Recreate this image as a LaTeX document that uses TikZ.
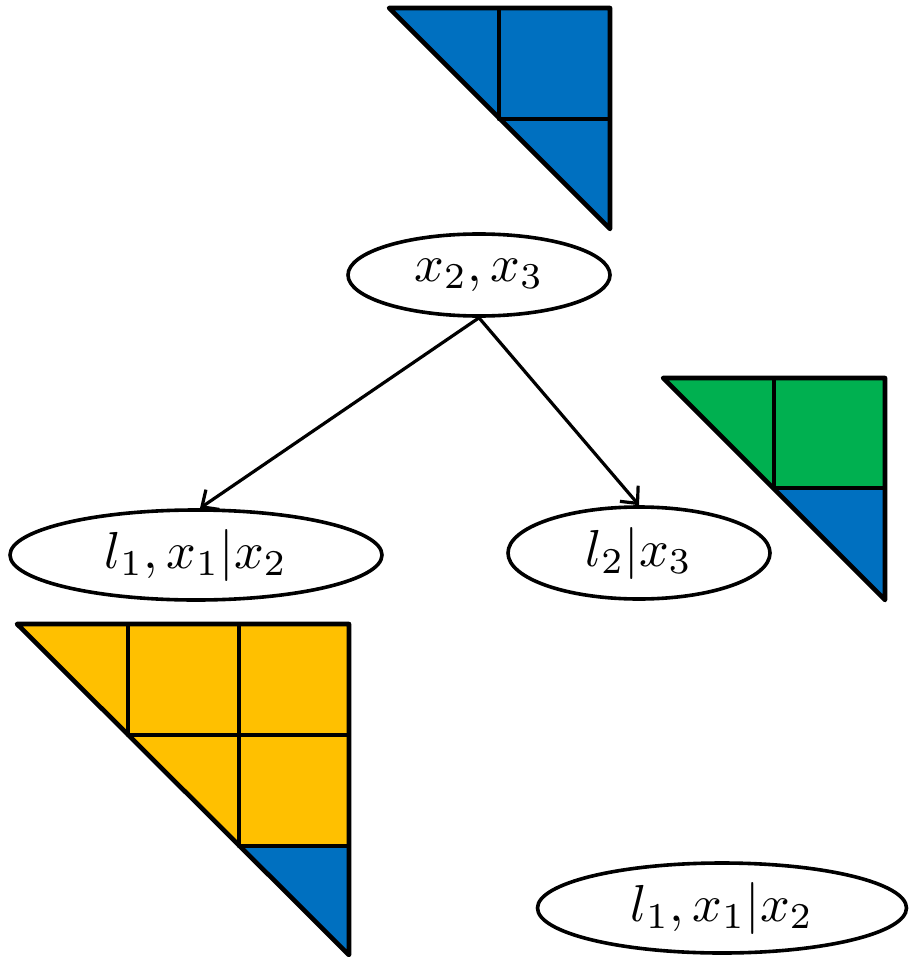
\documentclass[tikz,border=0pt]{standalone}
\usepackage{graphicx}
\usetikzlibrary{shapes.geometric,arrows.meta}
\definecolor{cblue}{HTML}{0070C0}
\definecolor{cgreen}{HTML}{00B050}
\definecolor{cyellow}{HTML}{FFC000}
\newcommand{\bigmath}[1]{\scalebox{5.2}{$#1$}}
\tikzset{
  cell/.style={draw=black,line width=4.6pt,line join=round},
  oval/.style={draw=black,ellipse,line width=3.6pt,inner sep=0pt},
  edge/.style={draw=black,line width=3.2pt,
    -{Straight Barb[length=13pt,width=24pt,line width=3.2pt]}}
}
\begin{document}
\begin{tikzpicture}[x=1pt,y=-1pt]
\useasboundingbox (0,0) rectangle (908,957);

% top block: three blue cells
\fill[cblue] (389,8) -- (610,8) -- (610,229) -- cycle;
\draw[cell] (389,8) -- (610,8) -- (610,229) -- cycle;
\draw[cell] (499,8) -- (499,119) -- (610,119);

% right block: green over blue
\fill[cgreen] (663,378) -- (885,378) -- (885,488) -- (774,488) -- cycle;
\fill[cblue] (774,488) -- (885,488) -- (885,600) -- cycle;
\draw[cell] (663,378) -- (885,378) -- (885,600) -- cycle;
\draw[cell] (774,378) -- (774,488) -- (885,488);

% left block: yellow cells with one blue cell
\fill[cyellow] (17,624) -- (349,624) -- (349,846) -- (239,846) -- cycle;
\fill[cblue] (239,846) -- (349,846) -- (349,955) -- cycle;
\draw[cell] (17,624) -- (349,624) -- (349,955) -- cycle;
\draw[cell] (128,624) -- (128,735) -- (349,735);
\draw[cell] (239,624) -- (239,846) -- (349,846);

% tree nodes
\node[oval,minimum width=262pt,minimum height=82pt] (root) at (479,275) {\bigmath{x_2,x_3}};
\node[oval,minimum width=372pt,minimum height=90pt] (left) at (196,555) {\bigmath{l_1,x_1|x_2}};
\node[oval,minimum width=262pt,minimum height=92pt] (right) at (639,553) {\bigmath{l_2|x_3}};
\node[oval,minimum width=369pt,minimum height=90pt] (bottom) at (722,908) {\bigmath{l_1,x_1|x_2}};

\draw[edge] (root.south) -- ([xshift=4pt]left.north);
\draw[edge] (root.south) -- (right.north);
\end{tikzpicture}
\end{document}
